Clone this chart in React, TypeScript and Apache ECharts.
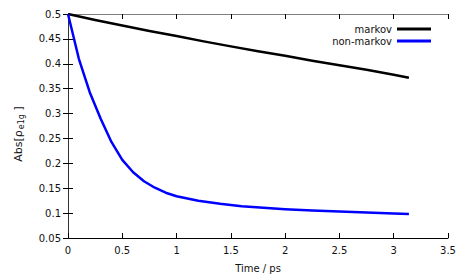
import React, { useEffect, useRef } from "react";
import * as echarts from "echarts";

const timeMarkov = [0, 0.25, 0.5, 0.75, 1, 1.25, 1.5, 1.75, 2, 2.25, 2.5, 2.75, 3, 3.14];
const markovValues = [0.5, 0.488, 0.477, 0.466, 0.456, 0.445, 0.435, 0.425, 0.416, 0.406, 0.397, 0.388, 0.378, 0.372];

const timeNonMarkov = [0, 0.1, 0.2, 0.3, 0.4, 0.5, 0.6, 0.7, 0.8, 0.9, 1, 1.2, 1.4, 1.6, 1.8, 2, 2.25, 2.5, 2.75, 3, 3.14];
const nonMarkovValues = [0.5, 0.41, 0.343, 0.29, 0.243, 0.207, 0.182, 0.164, 0.151, 0.141, 0.134, 0.125, 0.119, 0.114, 0.111, 0.108, 0.105, 0.103, 0.101, 0.099, 0.098];

const seriesNames = ["markov", "non-markov"];
const xTicks = { min: 0, max: 3.5, interval: 0.5 };
const yTicks = { min: 0.05, max: 0.5, interval: 0.05 };

const FONT = "DejaVu Sans";

export default function App() {
  const ref = useRef<HTMLDivElement>(null);
  useEffect(() => {
    if (!ref.current) return;
    const chart = echarts.init(ref.current, null, { renderer: "svg" });
    const fmt = (v: number) => String(+v.toFixed(2));
    const tickStyle = { show: true, inside: true, length: 5, lineStyle: { color: "#000", width: 1 } };
    chart.setOption({
      animation: false,
      textStyle: { fontFamily: FONT },
      grid: { left: 68, right: 15, top: 14, bottom: 38 },
      legend: {
        data: seriesNames,
        orient: "vertical",
        right: 27,
        top: 18,
        align: "right",
        icon: "rect",
        itemWidth: 34,
        itemHeight: 3,
        itemGap: 0,
        textStyle: { fontFamily: FONT, fontSize: 10, color: "#111", lineHeight: 12 },
      },
      graphic: [
        {
          type: "text",
          x: 18,
          y: 134,
          rotation: Math.PI / 2,
          style: {
            text: "Abs[{r|ρ}{s|e1g} ]",
            fontFamily: FONT,
            fontSize: 11,
            fill: "#111",
            align: "center",
            verticalAlign: "middle",
            rich: {
              r: { fontFamily: FONT, fontSize: 11, fill: "#111", padding: [0, 1, 0, 0] },
              s: { fontFamily: FONT, fontSize: 8, fill: "#111", padding: [6, 0, 0, 0] },
            },
          },
        },
      ],
      xAxis: [
        {
          type: "value",
          ...xTicks,
          name: "Time / ps",
          nameLocation: "middle",
          nameGap: 25,
          nameTextStyle: { fontFamily: FONT, fontSize: 10, color: "#111" },
          axisLine: { show: true, lineStyle: { color: "#000", width: 1 } },
          axisTick: tickStyle,
          splitLine: { show: false },
          axisLabel: { formatter: fmt, fontFamily: FONT, fontSize: 10, color: "#111", margin: 7 },
        },
        {
          type: "value",
          ...xTicks,
          position: "top",
          axisLine: { show: true, lineStyle: { color: "#808080", width: 1 } },
          axisTick: tickStyle,
          splitLine: { show: false },
          axisLabel: { show: false },
        },
      ],
      yAxis: [
        {
          type: "value",
          ...yTicks,
          axisLine: { show: true, lineStyle: { color: "#000", width: 1 } },
          axisTick: tickStyle,
          splitLine: { show: false },
          axisLabel: { formatter: fmt, fontFamily: FONT, fontSize: 10, color: "#111", margin: 7 },
        },
        {
          type: "value",
          ...yTicks,
          position: "right",
          axisLine: { show: true, lineStyle: { color: "#333", width: 1 } },
          axisTick: tickStyle,
          splitLine: { show: false },
          axisLabel: { show: false },
        },
      ],
      series: [
        {
          name: seriesNames[0],
          type: "line",
          data: timeMarkov.map((t, i) => [t, markovValues[i]]),
          showSymbol: false,
          symbol: "none",
          smooth: false,
          lineStyle: { color: "#000", width: 2.5, join: "round" },
          itemStyle: { color: "#000" },
        },
        {
          name: seriesNames[1],
          type: "line",
          data: timeNonMarkov.map((t, i) => [t, nonMarkovValues[i]]),
          showSymbol: false,
          symbol: "none",
          smooth: false,
          lineStyle: { color: "#0000ff", width: 2.5, join: "round" },
          itemStyle: { color: "#0000ff" },
        },
      ],
    });
    return () => chart.dispose();
  }, []);
  return <div ref={ref} style={{ width: 463, height: 278, position: "absolute", left: 0, top: 0 }} />;
}
